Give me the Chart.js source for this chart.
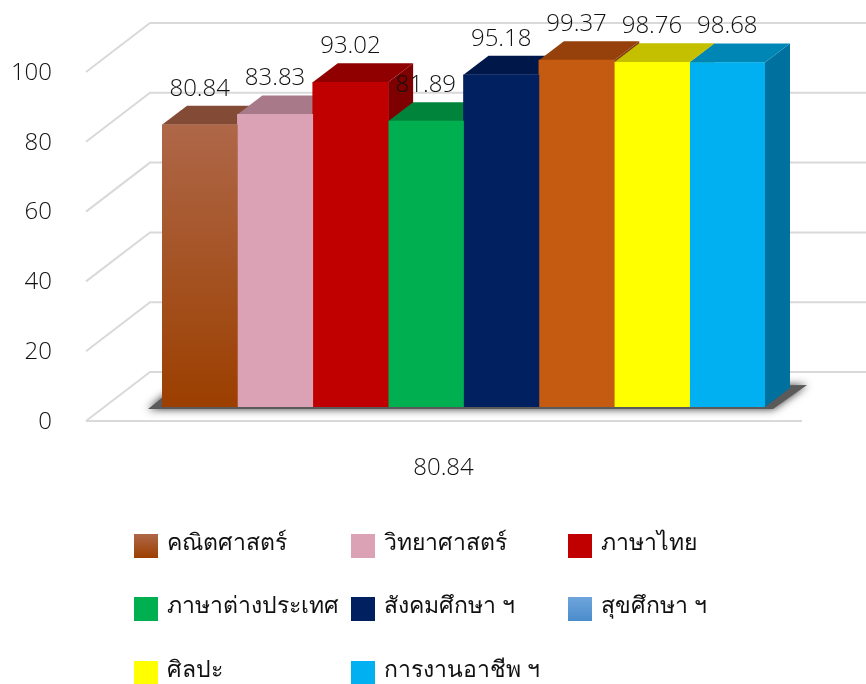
<!DOCTYPE html>
<html>
<head>
<meta charset="utf-8">
<script src="https://cdn.jsdelivr.net/npm/chart.js@4/dist/chart.umd.min.js"></script>
<style>
  body { margin: 0; background: #fff; }
  #wrap { position: relative; width: 866px; height: 684px; overflow: hidden; }
  canvas { position: absolute; left: 0; top: 0; }
  .item { position: absolute; font: 300 23px "Noto Sans", "Open Sans", sans-serif; color: #111; line-height: 30px; white-space: nowrap; }
  .box { position: absolute; width: 24px; height: 24px; }
</style>
</head>
<body>
<div id="wrap"><canvas id="grafica" width="866" height="684"></canvas></div>
<script>
const categories = ['80.84'];
const subjects = ['คณิตศาสตร์', 'วิทยาศาสตร์', 'ภาษาไทย', 'ภาษาต่างประเทศ', 'สังคมศึกษา ฯ', 'สุขศึกษา ฯ', 'ศิลปะ', 'การงานอาชีพ ฯ'];
const scores = [80.84, 83.83, 93.02, 81.89, 95.18, 99.37, 98.76, 98.68];
const yTicks = [0, 20, 40, 60, 80, 100];

const frontColors = ['#a5532a', '#dba1b5', '#c00000', '#00b050', '#002060', '#c55a11', '#ffff00', '#00b0f0'];
const topColors = ['#834a36', '#a87988', '#900000', '#00843c', '#00174a', '#96400b', '#c4c000', '#0086b4'];
const sideColors = ['#7a3a1c', '#9c7484', '#7f0000', '#00703a', '#001440', '#803a0a', '#a8a400', '#00709e'];
const legendColors = ['#a5532a', '#dba1b5', '#c00000', '#00b050', '#002060', '#5b9bd5', '#ffff00', '#00b0f0'];

// depth of the fake 3D
const depthX = 25, depthY = 19;
const font = '300 24px "Open Sans", sans-serif';

function poly(ctx, pts, color) {
  ctx.fillStyle = color;
  ctx.beginPath();
  pts.forEach((p, i) => i ? ctx.lineTo(p[0], p[1]) : ctx.moveTo(p[0], p[1]));
  ctx.closePath();
  ctx.fill();
}

const piso3d = {
  id: 'piso3d',
  beforeDatasetsDraw(chart) {
    const ctx = chart.ctx, y = chart.scales.y;
    // walls
    ctx.save();
    ctx.strokeStyle = '#d9d9d9';
    ctx.lineWidth = 2;
    yTicks.forEach(v => {
      const py = y.getPixelForValue(v);
      ctx.beginPath();
      ctx.moveTo(86, py + 14);
      ctx.lineTo(150, py - 35);
      ctx.lineTo(866, py - 35);
      ctx.stroke();
    });
    const py0 = y.getPixelForValue(0);
    ctx.beginPath();
    ctx.moveTo(86, py0 + 14);
    ctx.lineTo(802, py0 + 14);
    ctx.stroke();

    // floor shadow
    const bars = chart.getDatasetMeta(0).data[0];
    const last = chart.getDatasetMeta(scores.length - 1).data[0];
    const l = bars.x - bars.width / 2, r = last.x + last.width / 2;
    ctx.shadowColor = '#333';
    ctx.shadowBlur = 8;
    poly(ctx, [[l - 14, py0 + 2], [l + 6, py0 - 14], [r + 42, py0 - 22], [r + 8, py0 + 2]], '#5a5a5a');
    ctx.shadowBlur = 0;

    // side and top faces, left to right so each bar hides the previous one
    scores.forEach((s, i) => {
      const b = chart.getDatasetMeta(i).data[0];
      const x0 = b.x - b.width / 2, x1 = b.x + b.width / 2;
      poly(ctx, [[x1, b.y], [x1 + depthX, b.y - depthY], [x1 + depthX, b.base - depthY], [x1, b.base]], sideColors[i]);
      poly(ctx, [[x0, b.y], [x0 + depthX, b.y - depthY], [x1 + depthX, b.y - depthY], [x1, b.y]], topColors[i]);
    });
    ctx.restore();
  },
  afterDatasetsDraw(chart) {
    const ctx = chart.ctx;
    ctx.save();
    ctx.font = font;
    ctx.fillStyle = '#111';
    ctx.textAlign = 'center';
    ctx.textBaseline = 'middle';
    scores.forEach((s, i) => {
      const b = chart.getDatasetMeta(i).data[0];
      ctx.fillText(s.toFixed(2), b.x, b.y - 36);
    });
    ctx.restore();
  }
};

new Chart(document.getElementById('grafica'), {
  type: 'bar',
  plugins: [piso3d],
  data: {
    labels: categories,
    datasets: subjects.map((name, i) => ({
      label: name,
      data: [scores[i]],
      backgroundColor: i === 0 ? (c => {
        const g = c.chart.ctx.createLinearGradient(0, 125, 0, 407);
        g.addColorStop(0, '#ae6748');
        g.addColorStop(1, '#9c3f00');
        return g;
      }) : frontColors[i],
      barPercentage: 1,
      categoryPercentage: 1
    }))
  },
  options: {
    responsive: false,
    animation: false,
    layout: { padding: { top: 58, right: 101, left: 0, bottom: 0 } },
    plugins: { legend: { display: false }, tooltip: { enabled: false } },
    scales: {
      x: {
        grid: { display: false, drawTicks: false },
        border: { display: false },
        afterFit(scale) { scale.height = 277; scale.paddingLeft = 0; scale.paddingRight = 0; },
        ticks: { color: '#111', font: { family: 'Open Sans', size: 24, weight: 300 }, padding: 47, labelOffset: -20, maxRotation: 0 }
      },
      y: {
        min: 0,
        max: 100,
        grid: { display: false, drawTicks: false },
        border: { display: false },
        // tick padding also counts as vertical padding, which would squash the plot
        afterFit(scale) { scale.width = 162; scale.paddingTop = 0; scale.paddingBottom = 0; },
        ticks: { color: '#111', stepSize: 20, font: { family: 'Open Sans', size: 24, weight: 300 }, padding: 110, labelOffset: 15 }
      }
    }
  }
});

// legend, three columns like the original
const legendX = [134, 351, 568];
const legendY = [534, 597, 661];
const wrap = document.getElementById('wrap');
subjects.forEach((name, i) => {
  const cx = legendX[i % 3], cy = legendY[Math.floor(i / 3)];
  const box = document.createElement('div');
  box.className = 'box';
  box.style.left = cx + 'px';
  box.style.top = cy + 'px';
  box.style.background = i === 0 ? 'linear-gradient(#ae6748,#9c3f00)' : i === 5 ? 'linear-gradient(#6fa5dc,#4a8ccb)' : legendColors[i];
  wrap.appendChild(box);
  const t = document.createElement('div');
  t.className = 'item';
  t.textContent = name;
  t.style.left = (cx + 33) + 'px';
  t.style.top = (cy - 8) + 'px';
  wrap.appendChild(t);
});
</script>
</body>
</html>
